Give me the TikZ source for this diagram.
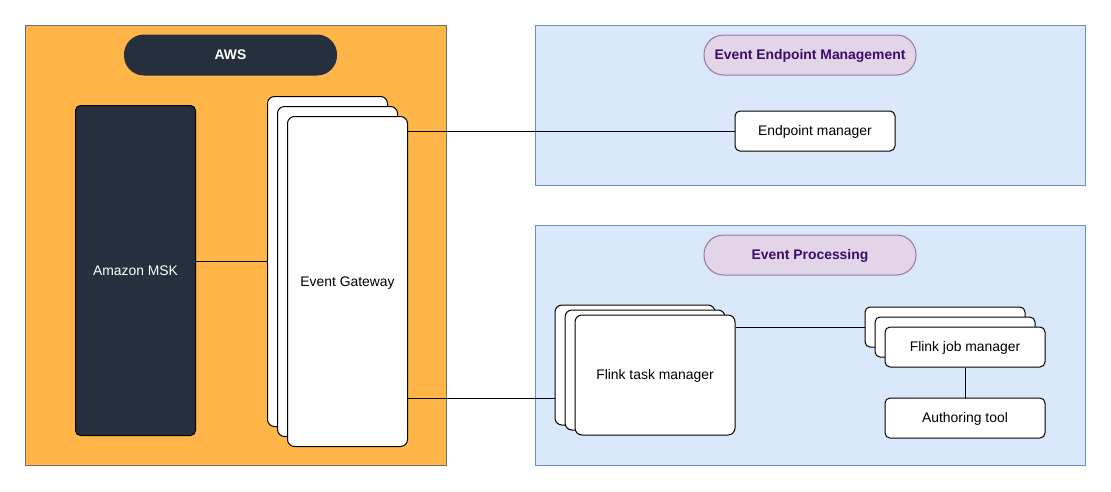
\documentclass[tikz,border=0pt]{standalone}
\usepackage{fontspec}
\setmainfont{Liberation Sans}
\usetikzlibrary{positioning}
\definecolor{awsorange}{HTML}{FFB547}
\definecolor{awsdark}{HTML}{262F3E}
\definecolor{awsline}{HTML}{707070}
\definecolor{regionfill}{HTML}{DAE8FC}
\definecolor{regionline}{HTML}{6C8EBF}
\definecolor{pillfill}{HTML}{E1D5E7}
\definecolor{pillline}{HTML}{9673A6}
\definecolor{pilltext}{HTML}{3D0C69}

\begin{document}
\begin{tikzpicture}[
    x=1pt,
    y=-1pt,
    line width=1pt,
    every node/.style={
        font=\fontsize{13.9}{16}\selectfont,
        text height=11pt,
        text depth=1.5pt
    },
    region/.style={
        rectangle,
        draw=regionline,
        fill=regionfill,
        minimum width=550pt
    },
    awsregion/.style={
        rectangle,
        draw=awsline,
        fill=awsorange,
        minimum width=421pt,
        minimum height=440pt
    },
    pill/.style={
        rectangle,
        rounded corners=19.5pt,
        draw=pillline,
        fill=pillfill,
        text=pilltext,
        minimum width=212pt,
        minimum height=40pt,
        font=\fontsize{13.9}{16}\selectfont\bfseries
    },
    awspill/.style={
        pill,
        draw=awsdark,
        fill=awsdark,
        text=white
    },
    cluster/.style={
        rectangle,
        rounded corners=5pt,
        draw=black,
        fill=awsdark,
        text=white,
        minimum width=120pt,
        minimum height=330pt
    },
    card/.style={
        rectangle,
        rounded corners=7pt,
        draw=black,
        fill=white
    },
    gwcard/.style={
        card,
        minimum width=120pt,
        minimum height=330pt
    },
    taskcard/.style={
        card,
        minimum width=160pt,
        minimum height=120pt
    },
    box/.style={
        card,
        rounded corners=5pt,
        minimum width=160pt,
        minimum height=40pt
    }
]
    \useasboundingbox (0,0) rectangle (1111,491);

    % Regions
    \node[awsregion] (aws) at (235.5,245) {};
    \node[region, minimum height=160pt] (eem) at (810,105) {};
    \node[region, minimum height=240pt] (ep) at (810,345) {};

    % Region titles
    \node[awspill] (awstitle) at (230.5,55) {AWS};
    \node[pill] (eemtitle) at (810,55) {Event Endpoint Management};
    \node[pill] (eptitle) at (810,255) {Event Processing};

    % AWS side
    \node[cluster] (msk) at (135.5,270.5) {Amazon MSK};
    \node[gwcard] (gw1) at (327.5,261.5) {};
    \node[gwcard] (gw2) at (337.5,271.5) {};
    \node[gwcard] (gw3) at (347.5,281.5) {Event Gateway};

    % Endpoint management
    \node[box] (em) at (815,131) {Endpoint manager};

    % Flink
    \node[taskcard] (tm1) at (635,365) {};
    \node[taskcard] (tm2) at (645,370) {};
    \node[taskcard] (tm3) at (655,375) {Flink task manager};
    \node[box] (jm1) at (945,327) {};
    \node[box] (jm2) at (955,337) {};
    \node[box] (jm3) at (965,347) {Flink job manager};
    \node[box] (at) [below=30pt of jm3] {Authoring tool};

    % Connections
    \draw (gw1.west) -- (gw1.west -| msk.east);
    \draw (em.west) -- (em.west -| gw3.east);
    \draw ([yshift=-33pt]tm1.west) -- ([yshift=-33pt]tm1.west -| gw3.east);
    \draw (jm1.west) -- (jm1.west -| tm3.east);
    \draw (jm3.south) -- (at.north);

\end{tikzpicture}
\end{document}
